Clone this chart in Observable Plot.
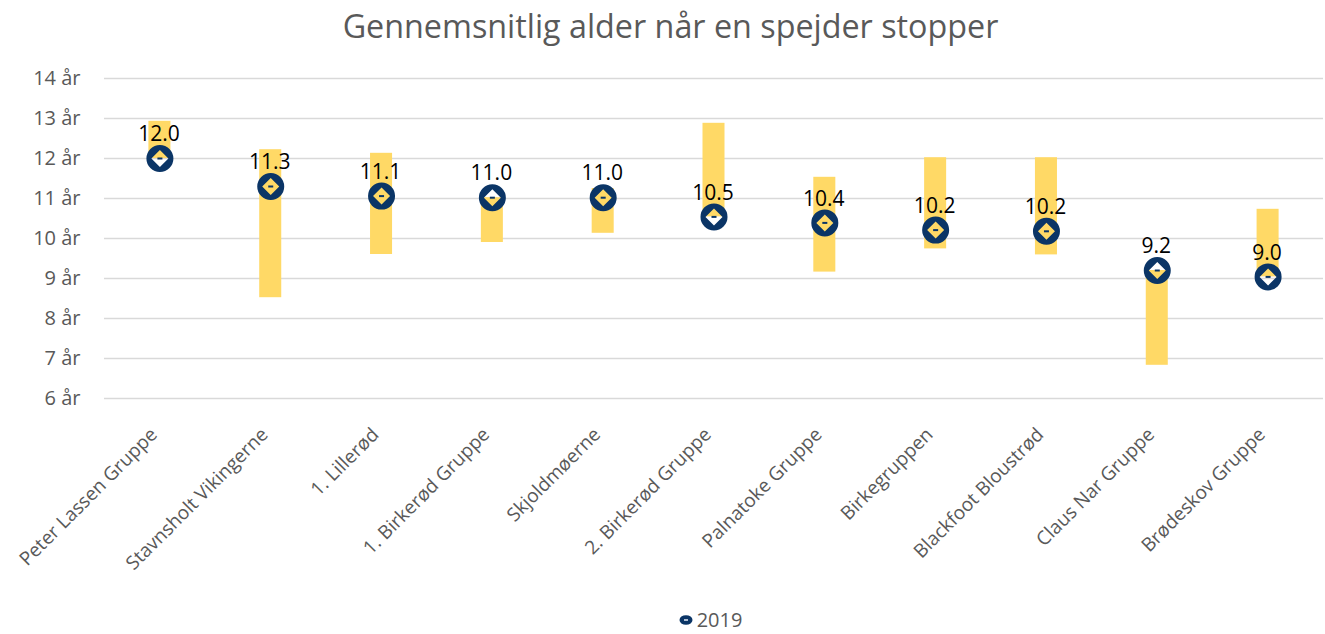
<!DOCTYPE html>
<html>
<head>
<meta charset="utf-8">
<script src="https://cdn.jsdelivr.net/npm/d3@7"></script>
<script src="https://cdn.jsdelivr.net/npm/@observablehq/plot@0.6"></script>
<style>
  body { margin: 0; background: #fff; font-family: "Open Sans", sans-serif; }
  #title { height: 50px; line-height: 50px; text-align: center; font-size: 32.3px; color: #595959; padding-left: 16px; }
  #legend { height: 29px; display: flex; justify-content: center; align-items: center; font-size: 20px; color: #595959; padding-left: 96px; }
  #legend span { margin-left: 4px; }
</style>
</head>
<body>
<div id="title">Gennemsnitlig alder når en spejder stopper</div>
<div id="chart"></div>
<div id="legend"><svg width="14" height="12"><ellipse cx="7" cy="6" rx="6.5" ry="4.8" fill="#0b3566"/><rect x="5" y="5.2" width="4" height="1.6" fill="#d9e2ee"/></svg><span>2019</span></div>
<script>
const categories = ["Peter Lassen Gruppe","Stavnsholt Vikingerne","1. Lillerød","1. Birkerød Gruppe","Skjoldmøerne","2. Birkerød Gruppe","Palnatoke Gruppe","Birkegruppen","Blackfoot Bloustrød","Claus Nar Gruppe","Brødeskov Gruppe"];
const avg2019 = [12.0, 11.3, 11.06, 11.02, 11.02, 10.54, 10.39, 10.21, 10.18, 9.2, 9.04];
const minAge  = [12.0, 8.52, 9.6, 9.9, 10.13, 10.54, 9.16, 9.74, 9.59, 6.83, 9.04];
const maxAge  = [12.93, 12.22, 12.13, 11.02, 11.25, 12.88, 11.53, 12.02, 12.02, 9.2, 10.73];
const yTicks = [6, 7, 8, 9, 10, 11, 12, 13, 14];

const rows = categories.map((c, i) => ({group: c, avg: avg2019[i], lo: minAge[i], hi: maxAge[i]}));

const navy = "#0b3566";
const ringSymbol = {
  draw(ctx, size) {
    const R = Math.sqrt(size / Math.PI);
    const d = R * 0.63;
    ctx.moveTo(R, 0);
    ctx.arc(0, 0, R, 0, 2 * Math.PI);
    ctx.closePath();
    ctx.moveTo(0, -d);
    ctx.lineTo(-d, 0);
    ctx.lineTo(0, d);
    ctx.lineTo(d, 0);
    ctx.closePath();
  }
};
const dashSymbol = {
  draw(ctx, size) {
    ctx.rect(-2.5, -1, 5, 2);
  }
};

const chart = Plot.plot({
  width: 1325,
  height: 555,
  marginLeft: 104,
  marginRight: 2,
  marginTop: 28,
  marginBottom: 207,
  style: {fontFamily: "'Open Sans', sans-serif", color: "#595959", background: "#fff"},
  x: {domain: categories, padding: 0, round: false, label: null},
  y: {domain: [6, 14], label: null},
  marks: [
    Plot.gridY(yTicks, {stroke: "#d9d9d9", strokeOpacity: 1, strokeWidth: 1.5}),
    Plot.axisY(yTicks, {tickSize: 0, tickPadding: 24, fontSize: 20, fill: "#595959", tickFormat: d => `${d} år`}),
    Plot.axisX({tickSize: 0, tickRotate: -45, fontSize: 19, fill: "#595959", tickPadding: 0, dx: -6, dy: 33}),
    Plot.barY(rows, {x: "group", y1: "lo", y2: "hi", fill: "#FFD966", insetLeft: 44.4, insetRight: 44.4}),
    Plot.dot(rows, {x: "group", y: "avg", r: 13.5, symbol: ringSymbol, fill: navy, stroke: "none"}),
    Plot.dot(rows, {x: "group", y: "avg", r: 3, symbol: dashSymbol, fill: navy, stroke: "none"}),
    Plot.text(rows, {x: "group", y: "avg", text: d => d.avg.toFixed(1), dx: -1, dy: -24, fontSize: 21, fill: "#000"})
  ]
});
document.getElementById("chart").appendChild(chart);
</script>
</body>
</html>
